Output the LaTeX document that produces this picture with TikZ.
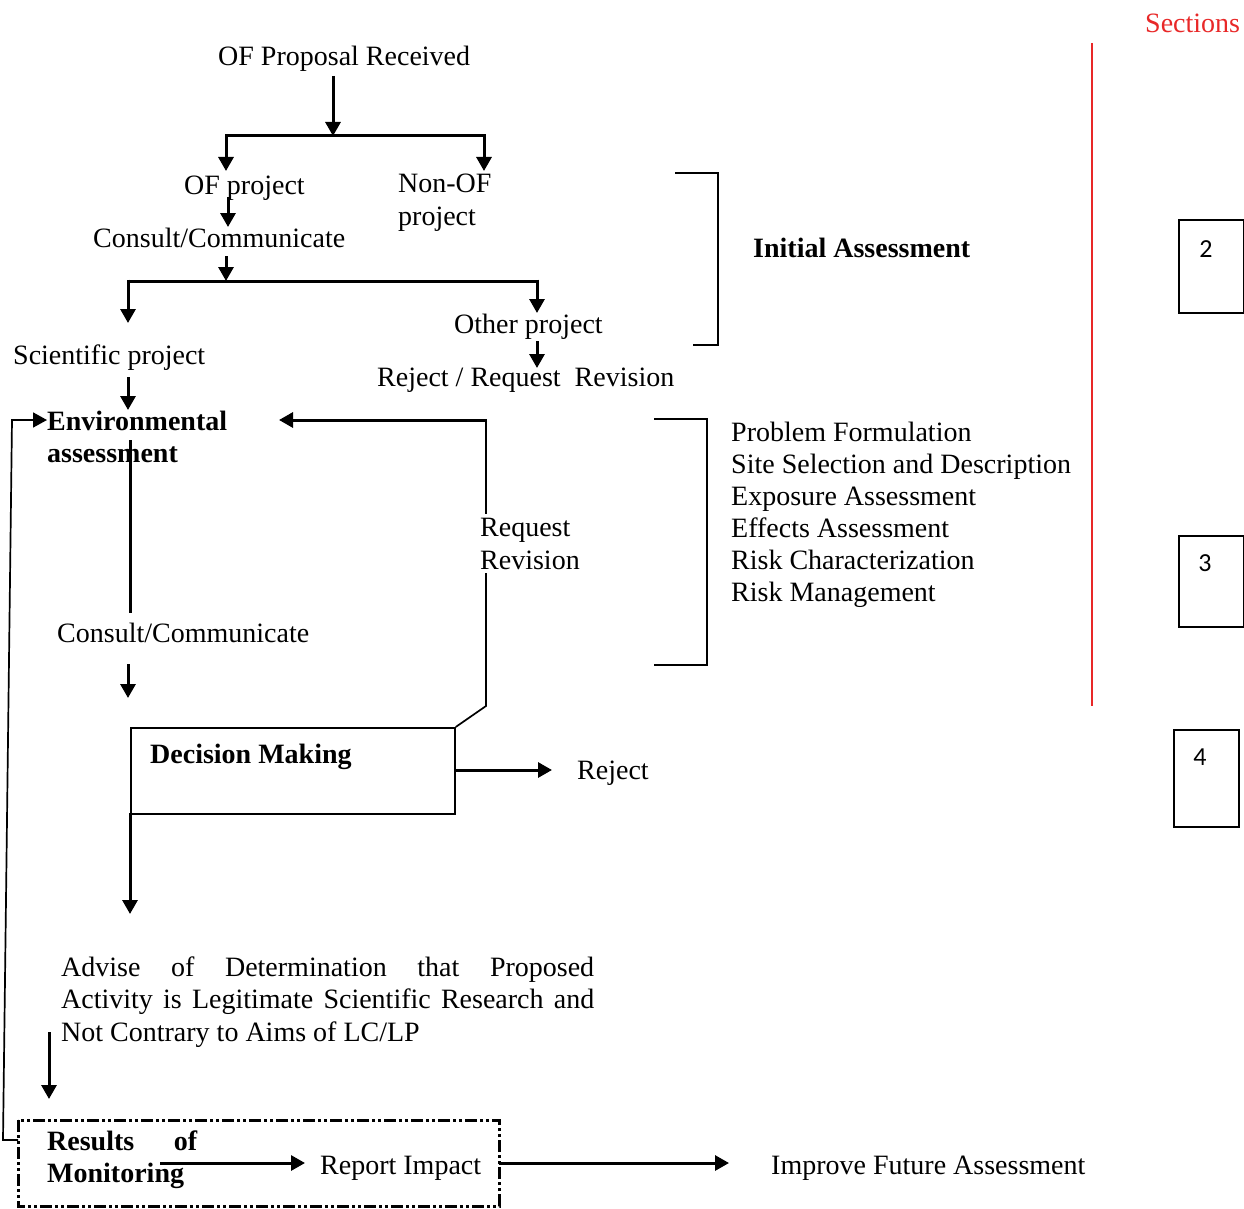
\documentclass[tikz,border=0pt]{standalone}
\usepackage{fontspec}
\setmainfont{Liberation Serif}
\newfontfamily\numfont{Carlito}
\usetikzlibrary{arrows.meta}
\definecolor{secred}{RGB}{232,40,40}
\begin{document}
\hyphenpenalty=10000
\tolerance=10000
\begin{tikzpicture}[x=1pt,y=-1pt,
  font=\fontsize{28}{32.5}\selectfont,
  txt/.style={inner sep=0pt, anchor=base west},
  arr/.style={line width=3pt, -{Triangle[width=15pt,length=14pt]}},
  ln/.style={line width=3pt},
  thinln/.style={line width=1.7pt},
  secbox/.style={draw, line width=1.8pt, anchor=north west, inner sep=0pt},
  numtxt/.style={inner sep=0pt, anchor=base, font=\numfont\fontsize{26}{30}\selectfont}]
\useasboundingbox (0,0) rectangle (1244,1209);

% texts (align nodes: base = last line; text width nodes: base = first line)
\node[txt] (prop) at (218,66) {OF Proposal Received};
\node[txt] (ofp) at (184,194) {OF project};
\node[txt, align=left] (nonof) at (398,225) {Non-OF\\project};
\node[txt] (cc1) at (93,247) {Consult/Communicate};
\node[txt] (other) at (454,333) {Other project};
\node[txt] (rrr) at (377,386) {Reject / Request\ \ Revision};
\node[txt] (sci) at (13,364) {Scientific project};
\node[txt, align=left, font=\fontsize{28}{32}\selectfont\bfseries] (env) at (47,462) {Environmental\\assessment};
\node[txt] (cc2) at (57,642) {Consult/Communicate};
\node[txt, font=\fontsize{28}{32.5}\selectfont\bfseries] (dmt) at (150,763) {Decision Making};
\node[txt] (rej) at (577,779) {Reject};
\node[txt, text width=533pt, align=justify, font=\fontsize{28}{32.5}\selectfont] (adv) at (61,976) {Advise of Determination that Proposed\linebreak Activity is Legitimate Scientific Research and\linebreak Not Contrary to Aims of LC/LP};
\node[txt, text width=150pt, align=left, font=\fontsize{28}{32}\selectfont\bfseries] (res) at (47,1150) {Results\hfill of\\Monitoring};
\node[txt] (rep) at (320,1174) {Report Impact};
\node[txt] (imp) at (771,1174) {Improve Future Assessment};
\node[txt, font=\fontsize{28}{32.5}\selectfont\bfseries] (ia) at (753,257) {Initial Assessment};
\node[txt, align=left, font=\fontsize{28}{32}\selectfont] (steps) at (731,601) {Problem Formulation\\Site Selection and Description\\Exposure Assessment\\Effects Assessment\\Risk Characterization\\Risk Management};
\node[txt, text=secred] (sec) at (1145,33) {Sections};

% section boxes
\node[secbox, minimum width=65pt, minimum height=93pt] (b2) at (1178,219) {};
\node[numtxt] at (1206,257) {2};
\node[secbox, minimum width=65pt, minimum height=91pt] (b3) at (1178,535) {};
\node[numtxt] at (1205,571) {3};
\node[secbox, minimum width=65pt, minimum height=97pt] (b4) at (1173,729) {};
\node[numtxt] at (1200,765) {4};

% red separator
\draw[secred, line width=1.4pt] (1092,43) -- (1092,706);

% brackets
\draw[thinln] (675,173) -- (718,173) -- (718,345) -- (693,345);
\draw[thinln] (654,419) -- (707,419) -- (707,665) -- (654,665);

% top branching
\coordinate (j1) at (333,136);
\draw[arr] (333,76) -- (j1);
\draw[ln] (226,136) -- (484,136);
\draw[arr] (226,134.5) -- (226,171);
\draw[arr] (484,134.5) -- (484,171);
\draw[arr] (228,197) -- (228,227);
\coordinate (j2) at (226,281);
\draw[arr] (226,256) -- (j2);
\draw[ln] (128,281) -- (537,281);
\draw[arr] (128,279.5) -- (128,323);
\draw[arr] (537,279.5) -- (537,313);
\draw[arr] (537,341) -- (537,368);
\draw[arr] (128,377) -- (128,410);

% environmental assessment down
\draw[ln] (130,440) -- (130,613);
\draw[arr] (128,664) -- (128,698);

% decision box
\node[draw, thinln, anchor=north west, minimum width=324pt, minimum height=86pt, inner sep=0pt] (dm) at (130,727) {};
\draw[arr] (454,770) -- (552,770);

% request revision loop
\draw[thinln] (dm.north east) -- (486,706) -- (486,420);
\draw[arr] (487,420) -- (279,420);
\node[txt, align=left, fill=white, inner sep=4pt] (reqrev) at (476,569) {Request\\Revision};

% down to advise
\draw[arr] (130,813) -- (130,914);
\draw[arr] (49,1032) -- (49,1099);

% monitoring box
\draw[line width=3pt, dash pattern=on 12pt off 3pt on 3pt off 3pt on 3pt off 3pt] (18,1120) rectangle (499,1206);
\draw[arr] (160,1163) -- (305,1163);
\draw[arr] (499,1163) -- (729,1163);

% feedback loop
\draw[thinln, -{Triangle[width=15pt,length=14pt]}] (18,1140) -- (3,1140) -- (12,420) -- (47,420);
\end{tikzpicture}
\end{document}
